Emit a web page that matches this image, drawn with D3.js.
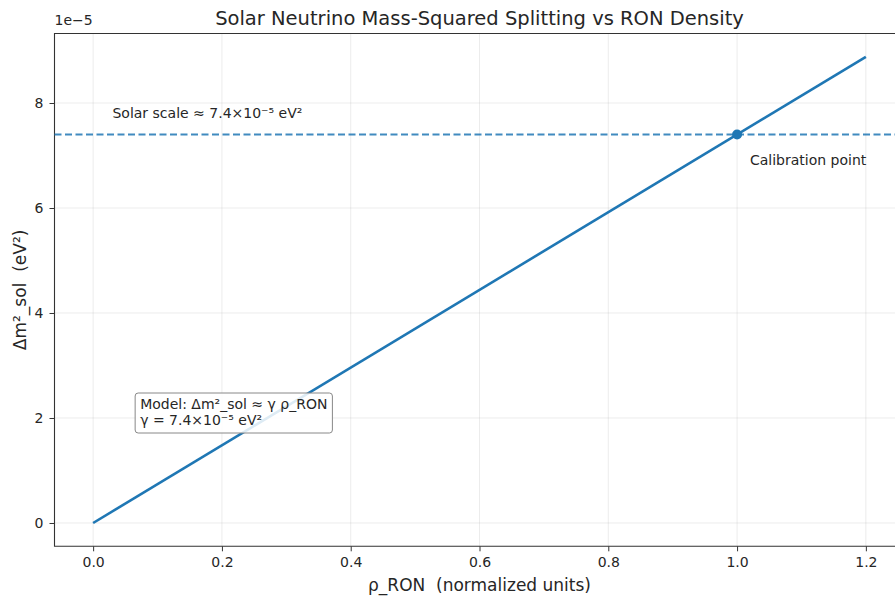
<!DOCTYPE html>
<html><head><meta charset="utf-8">
<script src="https://cdn.jsdelivr.net/npm/d3@7"></script>
<style>body{margin:0;background:#fff}svg{display:block}text{font-family:"DejaVu Sans",sans-serif;fill:#262626;white-space:pre}</style>
</head><body><svg id="c" width="895" height="601"></svg>
<script>
const rho = [0.0, 1.2];
const dm2 = [0.0, 8.88];          // units of 1e-5 eV^2
const calib = [1.0, 7.4];
const solarScale = 7.4;
const xTicks = [0.0, 0.2, 0.4, 0.6, 0.8, 1.0, 1.2];
const yTicks = [0, 2, 4, 6, 8];

const svg = d3.select("#c");
const L = 54.5, R = 904.5, T = 33.5, B = 546.3;
const x = d3.scaleLinear().domain([-0.06, 1.26]).range([L, R]);
const y = d3.scaleLinear().domain([-0.444, 9.324]).range([B, T]);

const g = svg.append("g");
g.selectAll(".gx").data(xTicks).enter().append("line")
  .attr("x1", d => x(d)).attr("x2", d => x(d)).attr("y1", T).attr("y2", B)
  .attr("stroke", "#b0b0b0").attr("stroke-opacity", 0.3).attr("stroke-width", 0.8);
g.selectAll(".gy").data(yTicks).enter().append("line")
  .attr("y1", d => y(d)).attr("y2", d => y(d)).attr("x1", L).attr("x2", R)
  .attr("stroke", "#b0b0b0").attr("stroke-opacity", 0.3).attr("stroke-width", 0.8);

const xa = svg.append("g").attr("transform", `translate(0,${B})`)
  .call(d3.axisBottom(x).tickValues(xTicks).tickFormat(d3.format(".1f")).tickSize(5).tickPadding(6));
const ya = svg.append("g").attr("transform", `translate(${L},0)`)
  .call(d3.axisLeft(y).tickValues(yTicks).tickFormat(d3.format("d")).tickSize(5).tickPadding(6));
[xa, ya].forEach(a => {
  a.select(".domain").remove();
  a.selectAll("line").attr("stroke", "#333").attr("stroke-width", 1);
  a.selectAll("text").style("font-size", "14px").attr("fill", "#262626");
});
svg.append("path").attr("d", `M${R},${T}H${L}V${B}H${R}`).attr("fill", "none")
  .attr("stroke", "#333").attr("stroke-width", 1.1);

svg.append("line").attr("x1", L).attr("x2", R).attr("y1", y(solarScale)).attr("y2", y(solarScale))
  .attr("stroke", "#1f77b4").attr("stroke-opacity", 0.85).attr("stroke-width", 2)
  .attr("stroke-dasharray", "7,3.5");

const pts = rho.map((r, i) => [r, dm2[i]]);
svg.append("path").datum(pts)
  .attr("d", d3.line().x(d => x(d[0])).y(d => y(d[1])))
  .attr("stroke", "#1f77b4").attr("stroke-width", 2.6).attr("fill", "none");

svg.append("circle").attr("cx", x(calib[0])).attr("cy", y(calib[1])).attr("r", 5).attr("fill", "#1f77b4");

svg.append("text").attr("x", x(0.03)).attr("y", y(7.72)).style("font-size", "14px")
  .text("Solar scale ≈ 7.4×10⁻⁵ eV²");
svg.append("text").attr("x", x(1.02)).attr("y", y(6.82)).style("font-size", "14px")
  .text("Calibration point");

const bx = svg.append("g");
const tx = x(0.073), ty = 409;
const t1 = bx.append("text").attr("x", tx).attr("y", ty).style("font-size", "14px").text("Model: Δm²_sol ≈ γ ρ_RON");
const t2 = bx.append("text").attr("x", tx).attr("y", ty + 16).style("font-size", "14px").text("γ = 7.4×10⁻⁵ eV²");
const w = Math.max(t1.node().getComputedTextLength(), t2.node().getComputedTextLength());
bx.insert("rect", "text").attr("x", tx - 5).attr("y", ty - 16).attr("width", w + 10).attr("height", 40)
  .attr("rx", 3).attr("fill", "#fff").attr("fill-opacity", 0.85).attr("stroke", "#888").attr("stroke-width", 1);

svg.append("text").attr("x", L).attr("y", 25).style("font-size", "14px").text("1e−5");

svg.append("text").attr("x", (L + R) / 2).attr("y", 25).attr("text-anchor", "middle")
  .style("font-size", "19.5px").text("Solar Neutrino Mass-Squared Splitting vs RON Density");
svg.append("text").attr("x", (L + R) / 2).attr("y", 591).attr("text-anchor", "middle")
  .style("font-size", "17px").text("ρ_RON  (normalized units)");
svg.append("text").attr("transform", `translate(26,${(T + B) / 2}) rotate(-90)`).attr("text-anchor", "middle")
  .style("font-size", "17px").text("Δm²_sol  (eV²)");
</script></body></html>
